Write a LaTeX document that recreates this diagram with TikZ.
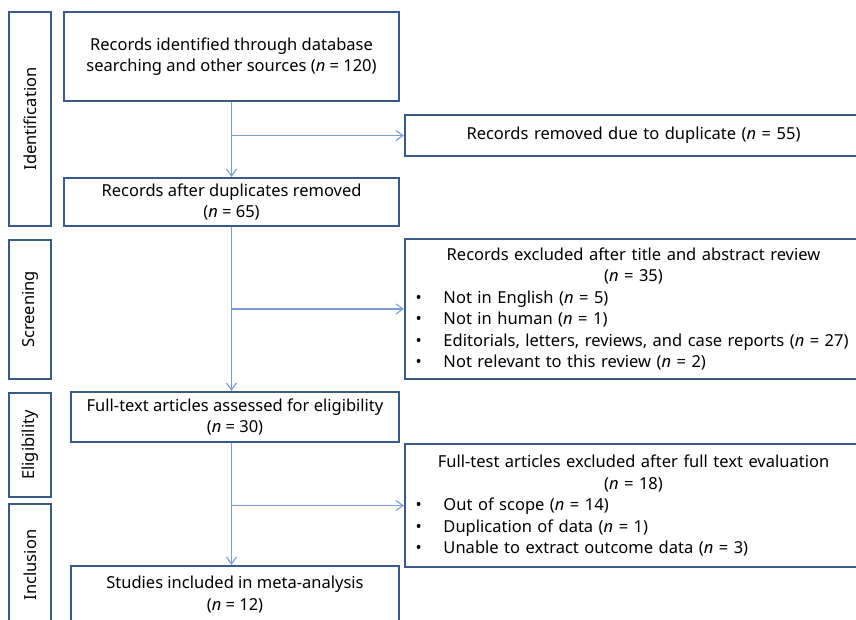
\documentclass[tikz,border=0pt]{standalone}
\usepackage{fontspec}
\setmainfont{Noto Sans}
\usetikzlibrary{arrows.meta, positioning}
\definecolor{boxline}{HTML}{3A5A87}
\definecolor{flowline}{HTML}{7A9ED3}
\newcommand{\nn}{\textit{n}}
\newcommand{\bitem}[1]{\makebox[440pt][l]{\makebox[30pt][l]{\hspace{2pt}\textbullet}#1}}

\begin{document}
\begin{tikzpicture}[
      x=1pt, y=-1pt,
      font=\fontsize{16.5}{21.5}\selectfont,
      stagebox/.style={
        draw=boxline,
        line width=2.2pt,
        rotate=90,
        minimum height=42pt,
        inner sep=0pt
      },
      mainbox/.style={
        draw=boxline,
        line width=2.2pt,
        align=center,
        inner sep=2pt
      },
      exclbox/.style={
        draw=boxline,
        line width=2.2pt,
        align=center,
        text width=447pt,
        inner sep=4pt,
        minimum width=457pt
      },
      flow/.style={-{Straight Barb[length=7pt, width=10pt]}, draw=flowline, line width=1.1pt}
    ]
    \clip (0,0) rectangle (856,619);

    % stages
    \node[stagebox, minimum width=214pt] (identification) at (30,119) {Identification};
    \node[stagebox, minimum width=139pt] (screening) at (30,309.5) {Screening};
    \node[stagebox, minimum width=104pt] (eligibility) at (30,445) {Eligibility};
    \node[stagebox, minimum width=122pt] (inclusion) at (30,565) {Inclusion};

    % main column
    \node[mainbox, minimum width=335pt, minimum height=89pt] (ident) at (231.5,56.5) {
      Records identified through database\\
      searching and other sources (\nn{} = 120)
    };
    \node[mainbox, minimum width=335pt, minimum height=48pt] (dedup) at (231.5,202) {
      Records after duplicates removed\\
      (\nn{} = 65)
    };
    \node[mainbox, minimum width=328pt, minimum height=50pt] (fulltext) at (235,417) {
      Full-text articles assessed for eligibility\\
      (\nn{} = 30)
    };
    \node[mainbox, minimum width=328pt, minimum height=57pt] (included) at (235,594.5) {
      Studies included in meta-analysis\\
      (\nn{} = 12)
    };

    % exclusions
    \node[exclbox, minimum height=41pt] (dupout) at (633.5,135.5) {
      Records removed due to duplicate (\nn{} = 55)
    };
    \node[exclbox, minimum height=140pt] (screenout) at (633.5,309) {
      Records excluded after title and abstract review\\
      (\nn{} = 35)\\
      \bitem{Not in English (\nn{} = 5)}\\
      \bitem{Not in human (\nn{} = 1)}\\
      \bitem{Editorials, letters, reviews, and case reports (\nn{} = 27)}\\
      \bitem{Not relevant to this review (\nn{} = 2)}
    };
    \node[exclbox, minimum height=123pt] (fullout) at (633.5,505.5) {
      Full-test articles excluded after full text evaluation\\
      (\nn{} = 18)\\
      \bitem{Out of scope (\nn{} = 14)}\\
      \bitem{Duplication of data (\nn{} = 1)}\\
      \bitem{Unable to extract outcome data (\nn{} = 3)}
    };

    \coordinate (split1) at (ident.south |- dupout.west);
    \coordinate (split2) at (dedup.south |- screenout.west);
    \coordinate (split3) at (dedup.south |- fullout.west);

    \draw[flow] (ident.south) -- (dedup.north);
    \draw[flow] (split1) -- (dupout.west);
    \draw[flow] (dedup.south) -- (dedup.south |- fulltext.north);
    \draw[flow] (split2) -- (screenout.west);
    \draw[flow] (fulltext.south -| dedup.south) -- (dedup.south |- included.north);
    \draw[flow] (split3) -- (fullout.west);
  \end{tikzpicture}
\end{document}
